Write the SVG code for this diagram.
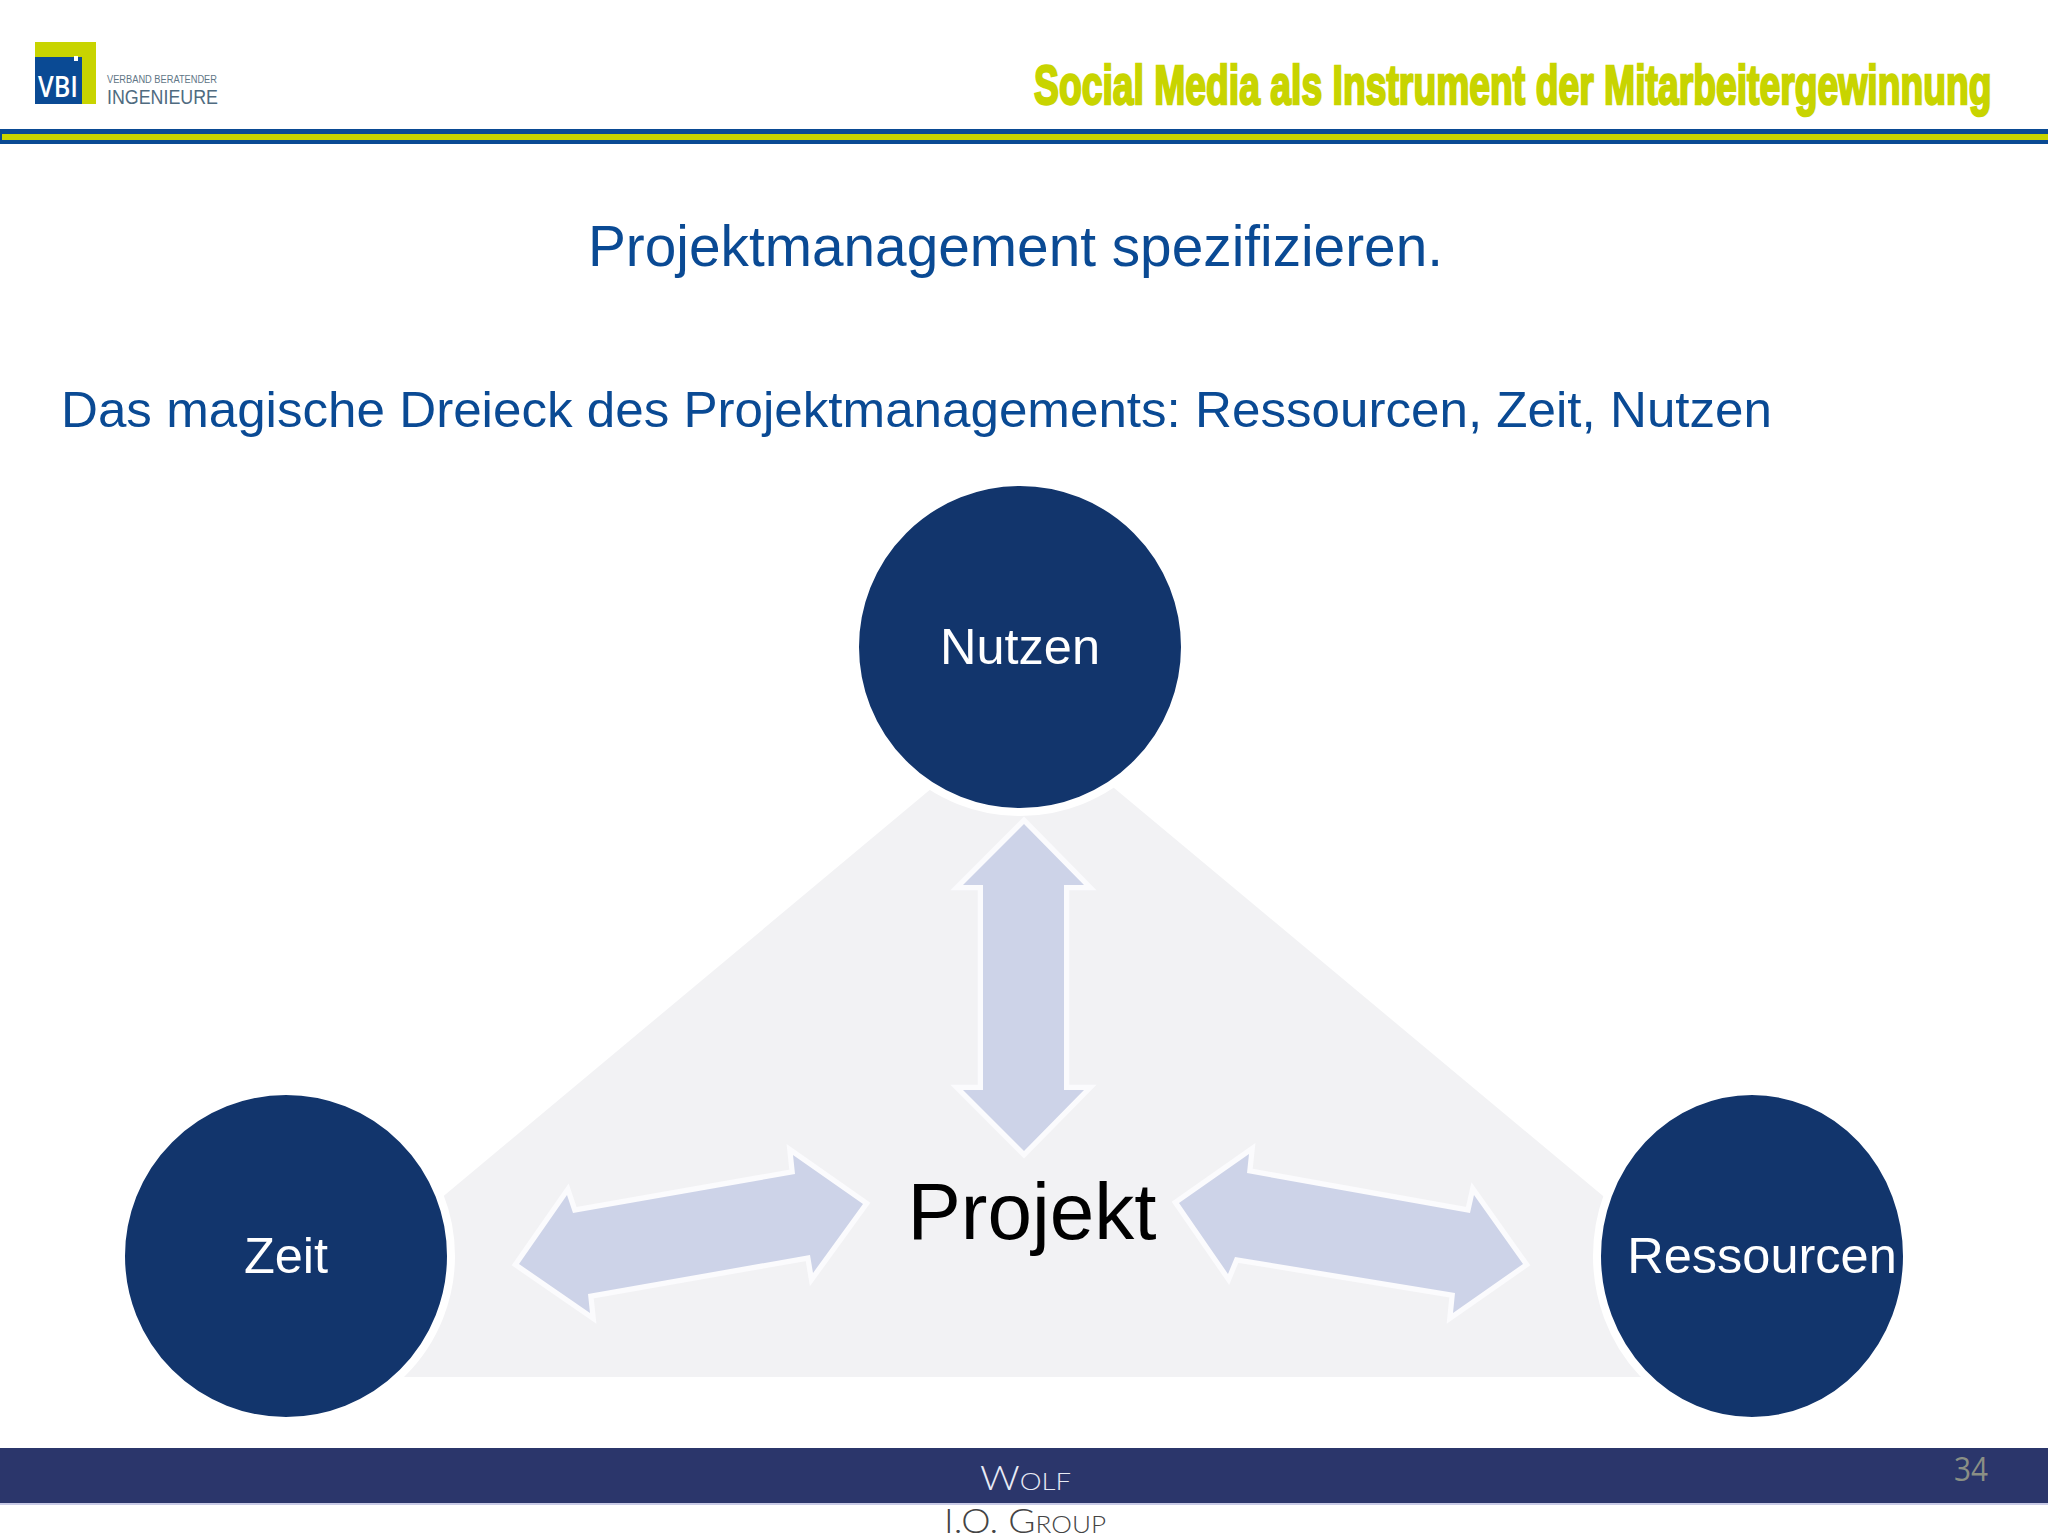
<svg xmlns="http://www.w3.org/2000/svg" width="2048" height="1536" viewBox="0 0 2048 1536">
<style>
text{font-family:"Liberation Sans",Arial,sans-serif}
.node{fill:#12356c;stroke:#fff;stroke-width:8}
.lbl{fill:#fff;font-size:50.5px;text-anchor:middle}
.arrow{fill:#cdd3e8;stroke:#fbfbfd;stroke-width:10.5;stroke-linejoin:miter;paint-order:stroke}
.head{fill:#0a4a94}
.foot{font-family:"Lato","Liberation Sans",sans-serif;font-variant:small-caps;font-weight:300}
.logo{font-family:"Open Sans","Liberation Sans",sans-serif}
</style>
<rect width="2048" height="1536" fill="#fff"/>
<g id="header">
<rect x="35" y="42" width="61" height="62" fill="#c8d400"/>
<rect x="35" y="57" width="47" height="47" fill="#0a4a94"/>
<rect x="74" y="56" width="4" height="5" fill="#fff"/>
<text class="logo" x="38" y="97" font-size="29" font-weight="600" fill="#fff" textLength="40" lengthAdjust="spacingAndGlyphs">VBI</text>
<text x="107" y="83" font-size="10" fill="#5f7686" textLength="110" lengthAdjust="spacingAndGlyphs">VERBAND BERATENDER</text>
<text x="107" y="104" font-size="20.5" fill="#4f6b80" textLength="111" lengthAdjust="spacingAndGlyphs">INGENIEURE</text>
<text transform="translate(1034,104) scale(0.7,1)" x="0" y="0" font-size="56" font-weight="700" fill="#c8d400" stroke="#c8d400" stroke-width="2.5" textLength="1368" lengthAdjust="spacingAndGlyphs">Social Media als Instrument der Mitarbeitergewinnung</text>
<rect x="0" y="129" width="2048" height="15" fill="#0a4a94"/>
<rect x="2" y="134" width="2046" height="6" fill="#c8d400"/>
</g>
<text class="head" x="588" y="266" font-size="58" textLength="855" lengthAdjust="spacingAndGlyphs">Projektmanagement spezifizieren.</text>
<text class="head" x="61" y="427" font-size="50" textLength="1711" lengthAdjust="spacingAndGlyphs">Das magische Dreieck des Projektmanagements: Ressourcen, Zeit, Nutzen</text>
<polygon id="triangle" points="1023,712 227,1377 1820,1377" fill="#f2f2f4"/>
<g id="connectors">
<polygon class="arrow" points="1024,824 1084,885 1064,885 1064,1090 1084,1090 1024,1151 963,1090 983,1090 983,885 963,885"/>
<polygon class="arrow" points="519,1264 567,1195 573,1213 795,1174 793,1155 863,1204 813,1273 810,1255 588,1294 590,1313"/>
<polygon class="arrow" points="1179,1203 1249,1154 1247,1173 1470,1213 1474,1195 1523,1264 1453,1313 1455,1293 1235,1257 1228,1274"/>
</g>
<g id="nutzen"><circle class="node" cx="1020" cy="647" r="165"/><text class="lbl" x="1020" y="664">Nutzen</text></g>
<g id="zeit"><circle class="node" cx="286" cy="1256" r="165"/><text class="lbl" x="286" y="1273">Zeit</text></g>
<g id="ressourcen"><ellipse class="node" cx="1752" cy="1256" rx="155" ry="165"/><text class="lbl" x="1762" y="1273">Ressourcen</text></g>
<g id="projekt"><text x="1032" y="1239" font-size="80" text-anchor="middle" fill="#000">Projekt</text></g>
<g id="footer">
<rect x="0" y="1448" width="2048" height="55" fill="#2b366b"/>
<rect x="0" y="1503" width="2048" height="2" fill="#c9cbe6"/>
<text class="foot" x="980" y="1490" font-size="34" fill="#e8ebf5" textLength="91" lengthAdjust="spacingAndGlyphs">Wolf</text>
<text class="foot" x="944" y="1533" font-size="34" fill="#444" textLength="162" lengthAdjust="spacingAndGlyphs">I.O. Group</text>
<text x="1954" y="1481" font-size="32" fill="#8a8f85" textLength="34" lengthAdjust="spacingAndGlyphs" style="font-family:'Open Sans',sans-serif">34</text>
</g>
</svg>
